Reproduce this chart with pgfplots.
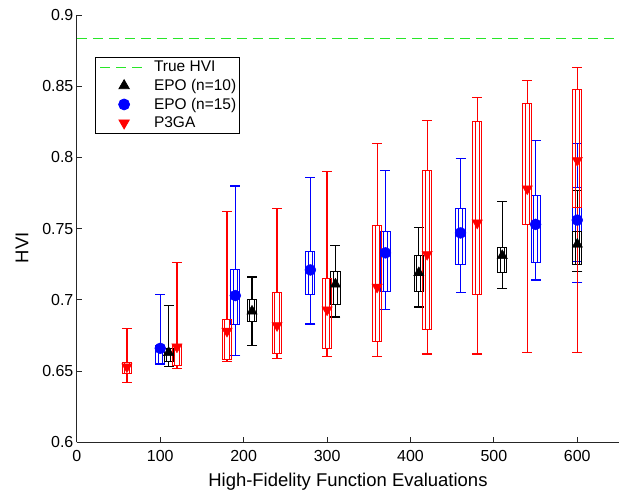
\documentclass[border=0pt]{standalone}
\usepackage{fontspec}
\setmainfont{Liberation Sans}
\usepackage{pgfplots}
\usepackage{pgfplotstable}
\pgfplotsset{compat=1.18}
\usepgfplotslibrary{statistics}

\definecolor{hvigreen}{RGB}{40,230,40}

% x, lower whisker, lower quartile, mean marker, upper quartile, upper whisker
\pgfplotstableread{
x   lw    lq    med   uq    uw
100 0.655 0.655 0.666 0.668 0.704
190 0.661 0.683 0.703 0.721 0.780
280 0.683 0.704 0.721 0.734 0.786
370 0.693 0.706 0.733 0.748 0.791
460 0.705 0.725 0.747 0.764 0.799
550 0.714 0.726 0.753 0.773 0.812
600 0.712 0.727 0.756 0.779 0.810
}\epofifteen
\pgfplotstableread{
x   lw    lq    med   uq    uw
110 0.653 0.657 0.663 0.666 0.696
210 0.668 0.685 0.692 0.700 0.716
310 0.688 0.697 0.711 0.720 0.738
410 0.695 0.706 0.719 0.731 0.751
510 0.708 0.719 0.731 0.737 0.769
600 0.720 0.725 0.739 0.748 0.777
}\epoten
\pgfplotstableread{
x   lw    lq    med   uq    uw
60  0.642 0.648 0.653 0.656 0.680
120 0.652 0.654 0.667 0.668 0.726
180 0.657 0.658 0.678 0.686 0.762
240 0.659 0.662 0.682 0.705 0.764
300 0.660 0.666 0.693 0.715 0.790
360 0.660 0.671 0.709 0.752 0.810
420 0.662 0.679 0.732 0.791 0.826
480 0.662 0.704 0.754 0.825 0.842
540 0.663 0.753 0.778 0.838 0.854
600 0.663 0.765 0.798 0.848 0.863
}\pthreega

% whiskers of one series: table, colour
\newcommand{\whisk}[2]{%
  \addplot[draw=none, forget plot, error bars/.cd, y dir=plus, y explicit,
    error mark=-, error mark options={#2, rotate=90, mark size=5pt, line width=1.2pt},
    error bar style={#2, line width=1.2pt}]
    table[x=x, y=uq, y error expr=\thisrow{uw}-\thisrow{uq}] {#1};
  \addplot[draw=none, forget plot, error bars/.cd, y dir=minus, y explicit,
    error mark=-, error mark options={#2, rotate=90, mark size=5pt, line width=1.2pt},
    error bar style={#2, line width=1.2pt}]
    table[x=x, y=lq, y error expr=\thisrow{lq}-\thisrow{lw}] {#1};}

% box: colour, position, lower quartile, upper quartile (outer and inner outline)
\newcommand{\bx}[4]{%
  \addplot[color=#1, forget plot, line width=1pt,
    boxplot prepared={draw position=#2, lower whisker=#3, lower quartile=#3,
      median=#3, upper quartile=#4, upper whisker=#4}]
    coordinates {};
  \addplot[color=#1, forget plot, line width=1pt,
    boxplot prepared={draw position=#2, lower whisker=#3, lower quartile=#3,
      median=#3, upper quartile=#4, upper whisker=#4, box extend=5}]
    coordinates {};}

\begin{document}
\begin{tikzpicture}
\begin{axis}[
    name=ax,
    scale only axis,
    width=543pt, height=428pt,
    xmin=0, xmax=650, ymin=0.6, ymax=0.9,
    xtick={0,100,...,600},
    ytick={0.6,0.65,0.7,0.75,0.8,0.85,0.9},
    yticklabels={0.6,0.65,0.7,0.75,0.8,0.85,0.9},
    axis lines*=left,
    axis line style={line width=0.8pt, black!85},
    tick align=inside,
    major tick length=5pt,
    tick style={line width=0.8pt, black!85},
    /pgf/number format/assume math mode=true,
    tick label style={font=\fontsize{16}{19}\selectfont},
    xticklabel style={yshift=-5pt},
    xlabel={High-Fidelity Function Evaluations},
    ylabel={HVI},
    label style={font=\fontsize{18.5}{22}\selectfont},
    xlabel style={at={(axis description cs:0.5,-0.093)}, anchor=center},
    ylabel style={at={(axis description cs:-0.101,0.455)}, anchor=center, rotate=0},
    boxplot/draw direction=y,
    boxplot/box extend=11,
    boxplot/whisker extend=0,
    boxplot/every median/.style={draw=none},
    boxplot/every whisker/.style={draw=none},
    legend image code/.code={%
      \path[draw=none, fill=none] (0pt,-5pt) rectangle (56pt,5pt);
      \draw[mark repeat=2,mark phase=2,#1] plot coordinates {(3pt,0pt) (27pt,0pt) (51pt,0pt)};},
    legend style={at={(0.033,0.902)}, anchor=north west, draw=black, line width=0.8pt,
      font=\fontsize{15.5}{18}\selectfont, row sep=2pt, inner sep=2pt,
      nodes={inner xsep=1pt}},
    legend cell align=left,
]
% EPO (n=15)
\whisk{\epofifteen}{blue}
\bx{blue}{100}{0.655}{0.668}
\bx{blue}{190}{0.683}{0.721}
\bx{blue}{280}{0.704}{0.734}
\bx{blue}{370}{0.706}{0.748}
\bx{blue}{460}{0.725}{0.764}
\bx{blue}{550}{0.726}{0.773}
\bx{blue}{600}{0.727}{0.779}
% EPO (n=10)
\whisk{\epoten}{black}
\bx{black}{110}{0.657}{0.666}
\bx{black}{210}{0.685}{0.700}
\bx{black}{310}{0.697}{0.720}
\bx{black}{410}{0.706}{0.731}
\bx{black}{510}{0.719}{0.737}
\bx{black}{600}{0.725}{0.748}
% P3GA
\whisk{\pthreega}{red}
\bx{red}{60}{0.648}{0.656}
\bx{red}{120}{0.654}{0.668}
\bx{red}{180}{0.658}{0.686}
\bx{red}{240}{0.662}{0.705}
\bx{red}{300}{0.666}{0.715}
\bx{red}{360}{0.671}{0.752}
\bx{red}{420}{0.679}{0.791}
\bx{red}{480}{0.704}{0.825}
\bx{red}{540}{0.753}{0.838}
\bx{red}{600}{0.765}{0.848}

\addplot[hvigreen, line width=1.1pt, dash pattern=on 10pt off 6pt] coordinates {(0,0.8832) (650,0.8832)};
\addlegendentry{True HVI}
\addplot[only marks, mark=triangle*, mark size=6pt, black] table[x=x, y=med] {\epoten};
\addlegendentry{EPO (n=10)}
\addplot[only marks, mark=*, mark size=5.5pt, blue] table[x=x, y=med] {\epofifteen};
\addlegendentry{EPO (n=15)}
\addplot[only marks, mark=triangle*, mark size=6pt, mark options={rotate=180}, red] table[x=x, y=med] {\pthreega};
\addlegendentry{P3GA}
\end{axis}
\pgfresetboundingbox
\path ([shift={(-77pt,-56pt)}]ax.south west) rectangle ([shift={(0pt,15pt)}]ax.north east);
\end{tikzpicture}
\end{document}
